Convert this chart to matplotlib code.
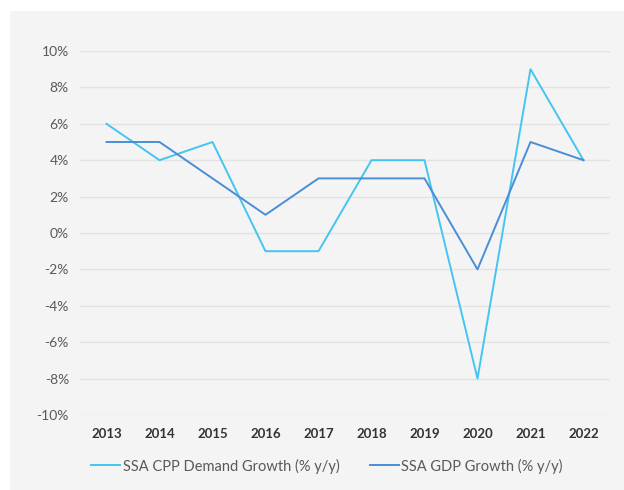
import matplotlib
matplotlib.use("Agg")
import matplotlib.pyplot as plt
from matplotlib.patches import Rectangle

years = ["2013", "2014", "2015", "2016", "2017", "2018", "2019", "2020", "2021", "2022"]
cpp_demand_growth = [6, 4, 5, -1, -1, 4, 4, -8, 9, 4]
gdp_growth = [5, 5, 3, 1, 3, 3, 3, -2, 5, 4]
y_ticks = [-10, -8, -6, -4, -2, 0, 2, 4, 6, 8, 10]

plt.rcParams["font.family"] = ["Lato", "DejaVu Sans"]

W, H = 624, 490
fig = plt.figure(figsize=(W / 100, H / 100), dpi=100)
fig.patch.set_facecolor("white")
fig.patches.append(Rectangle((10 / W, 0), 1 - 10 / W, 1 - 11 / H,
                             transform=fig.transFigure, facecolor="#f4f4f4",
                             edgecolor="none", zorder=-10))

ax = fig.add_axes([80 / W, (H - 415) / H, 530 / W, 364 / H])
ax.set_facecolor("none")

x = list(range(len(years)))
ax.plot(x, cpp_demand_growth, color="#45c4f2", lw=1.4, label="SSA CPP Demand Growth (% y/y)")
ax.plot(x, gdp_growth, color="#4a8ed6", lw=1.4, label="SSA GDP Growth (% y/y)")

ax.set_xlim(-0.5, len(years) - 0.5)
ax.set_ylim(-10, 10)
ax.set_yticks(y_ticks)
ax.set_yticklabels([f"{v}%" for v in y_ticks], color="#595959", fontsize=10)
ax.set_xticks(x)
ax.set_xticklabels(years, fontweight="bold", color="#333333", fontsize=9.5)
ax.tick_params(length=0)
ax.tick_params(axis="y", pad=8)
ax.tick_params(axis="x", pad=9)
ax.grid(axis="y", color="#e2e2e2", lw=1)
ax.set_axisbelow(True)
for s in ax.spines.values():
    s.set_visible(False)

ax.legend(loc="center", bbox_to_anchor=((327 - 80) / 530, -(466 - 415) / 364),
          ncol=2, frameon=False, fontsize=10.5, handlelength=2.0, handletextpad=0.15,
          columnspacing=2.1, labelcolor="#595959")

fig.savefig("out.png", dpi=100, facecolor=fig.get_facecolor())
